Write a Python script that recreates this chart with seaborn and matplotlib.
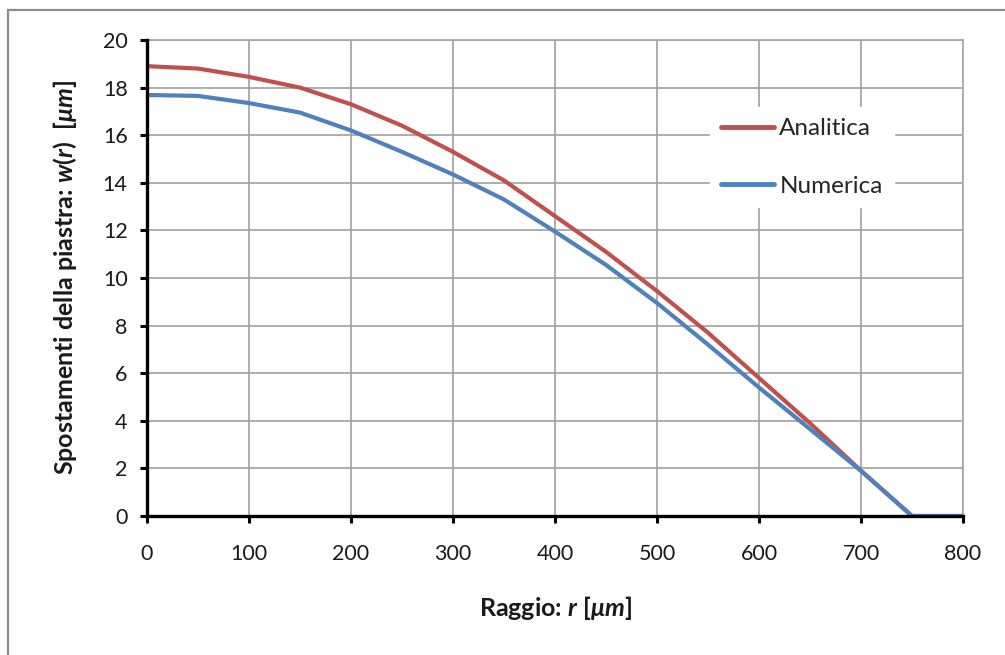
import matplotlib
matplotlib.use("Agg")
import matplotlib.pyplot as plt
import matplotlib.patches as mpatches
import numpy as np
import pandas as pd
import seaborn as sns

# Plate deflection along the radius
raggio = [0, 50, 100, 150, 200, 250, 300, 350, 400, 450, 500, 550, 600, 650, 700, 750, 800]
w_analitica = [18.9, 18.8, 18.45, 18.0, 17.3, 16.4, 15.3, 14.1, 12.6, 11.1, 9.45, 7.7, 5.8, 3.9, 1.9, 0.0, 0.0]
w_numerica = [17.69, 17.65, 17.35, 16.95, 16.2, 15.3, 14.35, 13.3, 11.95, 10.55, 8.95, 7.2, 5.4, 3.65, 1.9, 0.0, 0.0]
serie = ["Analitica", "Numerica"]
colori = ["#C0504D", "#4F81BD"]
x_ticks = [0, 100, 200, 300, 400, 500, 600, 700, 800]
y_ticks = [0, 2, 4, 6, 8, 10, 12, 14, 16, 18, 20]

df = pd.DataFrame({
    "r": raggio * 2,
    "w": w_analitica + w_numerica,
    "serie": [serie[0]] * len(raggio) + [serie[1]] * len(raggio),
})

sns.set_theme(style="white")
plt.rcParams["font.family"] = ["Lato", "DejaVu Sans"]
plt.rcParams["mathtext.fontset"] = "custom"
plt.rcParams["mathtext.rm"] = "Lato:bold"
plt.rcParams["mathtext.it"] = "Lato:italic:bold"
plt.rcParams["mathtext.bf"] = "Lato:bold"

W, H = 1005, 655
fig = plt.figure(figsize=(W / 100, H / 100), dpi=100)
fig.patch.set_facecolor("white")

# outer chart frame
fig.patches.append(mpatches.Rectangle((8 / W, -0.1), 1.2, (H - 10) / H + 0.1,
                                      transform=fig.transFigure, fill=False,
                                      edgecolor="#8c8c8c", linewidth=1.6, zorder=0))

ax = fig.add_axes([147 / W, 1 - 516 / H, (963 - 147) / W, (516 - 40) / H])

sns.lineplot(data=df, x="r", y="w", hue="serie", palette=colori, hue_order=serie,
             linewidth=3.0, ax=ax, legend=True, zorder=3)

ax.set_xlim(0, 800)
ax.set_ylim(0, 20)
ax.set_xticks(x_ticks)
ax.set_yticks(y_ticks)
ax.grid(True, color="#a0a0a0", linewidth=1.2, zorder=0)
ax.set_axisbelow(True)

for s in ("top", "right"):
    ax.spines[s].set_color("#a6a6a6")
    ax.spines[s].set_linewidth(1.2)
for s in ("left", "bottom"):
    ax.spines[s].set_color("black")
    ax.spines[s].set_linewidth(2.4)
    ax.spines[s].set_zorder(4)

ax.tick_params(axis="both", which="major", direction="out", length=5, width=2.2,
               color="black", labelsize=15.5, labelcolor="#1a1a1a",
               left=True, bottom=True)
ax.tick_params(axis="x", pad=15)
ax.tick_params(axis="y", pad=9)

ax.set_xlabel(r"Raggio: $r$ [$\mu m$]", fontsize=18, fontweight="bold",
              color="#1a1a1a", labelpad=22)
ax.set_ylabel(r"Spostamenti della piastra: $w(r)$  [$\mu m$]", fontsize=18,
              fontweight="bold", color="#1a1a1a", labelpad=17)

leg = ax.legend(loc="upper left", bbox_to_anchor=(0.69, 0.859), frameon=True,
                facecolor="white", edgecolor="white", framealpha=1.0,
                fontsize=17.5, handlelength=2.2, handletextpad=0.2,
                labelspacing=1.5, borderpad=0.45, borderaxespad=0)
for h in leg.get_lines():
    h.set_linewidth(3.5)
    h.set_solid_capstyle("round")
leg.set_zorder(5)

fig.savefig("out.png", dpi=100, facecolor="white")
